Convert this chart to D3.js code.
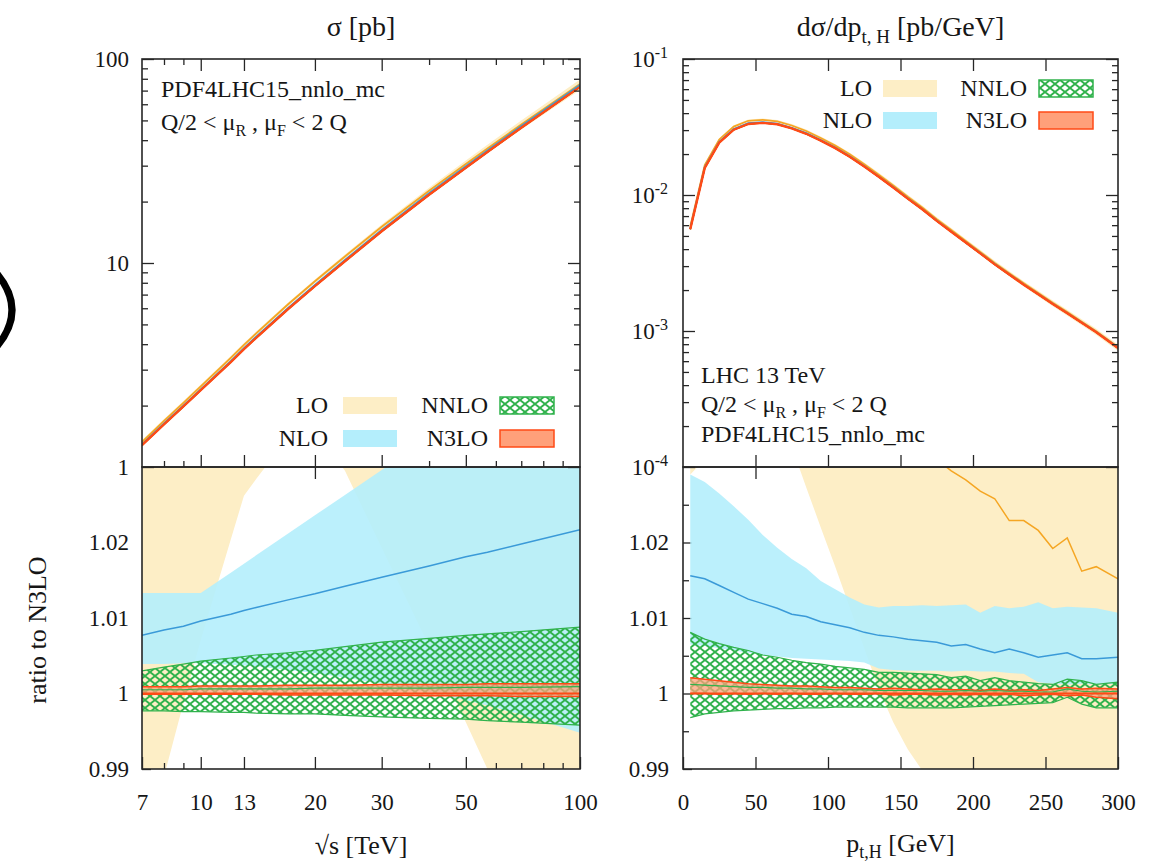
<!DOCTYPE html>
<html><head><meta charset="utf-8">
<script src="https://cdn.jsdelivr.net/npm/d3@7"></script>
<style>
body{margin:0;background:#fff}
svg text{font-family:"Liberation Serif","Times New Roman",serif;fill:#161616}
</style>
</head><body>
<svg id="c" width="1165" height="865"></svg>
<script>
// ---------------- DATA: left panel (total cross section vs sqrt(s)) ----------------
const sqrtS     = [7, 8, 9, 10, 12, 13, 14, 17, 20, 24, 30, 40, 50, 57, 70, 100];
const sigmaN3LO = [1.28, 1.62, 1.98, 2.38, 3.27, 3.78, 4.30, 5.95, 7.70, 10.2, 14.3, 21.6, 29.3, 35.0, 46.0, 73.0];
const loLoS   = [0.978, 0.989, 0.9987, 1.0071, 1.0204, 1.0262, 1.0284, 1.034, 1.035, 1.0295, 1.0193, 1.0063, 0.9962, 0.990, 0.981, 0.965];
const loHiS   = [1.060, 1.062, 1.064, 1.066, 1.069, 1.071, 1.072, 1.075, 1.077, 1.079, 1.081, 1.083, 1.084, 1.085, 1.086, 1.088];
const loMidS  = [1.035, 1.038, 1.041, 1.044, 1.048, 1.050, 1.051, 1.055, 1.057, 1.055, 1.052, 1.047, 1.043, 1.040, 1.037, 1.033];
const nloLoS  = [1.0039, 1.0039, 1.0040, 1.0040, 1.0038, 1.0037, 1.0036, 1.0031, 1.0027, 1.0021, 1.0013, 1.0002, 0.9991, 0.9984, 0.9972, 0.9948];
const nloHiS  = [1.0133, 1.0133, 1.0133, 1.0133, 1.0160, 1.0172, 1.0183, 1.0212, 1.0236, 1.0263, 1.0296, 1.0340, 1.0371, 1.0390, 1.0420, 1.0470];
const nloMidS = [1.0077, 1.0084, 1.0089, 1.0096, 1.0105, 1.0110, 1.0114, 1.0124, 1.0132, 1.0142, 1.0154, 1.0169, 1.0181, 1.0187, 1.0198, 1.0217];
const nnloLoS = [0.9977, 0.9977, 0.9976, 0.9976, 0.9975, 0.9975, 0.9974, 0.9973, 0.9973, 0.9971, 0.9969, 0.9967, 0.9966, 0.9964, 0.9962, 0.9958];
const nnloHiS = [1.0030, 1.0035, 1.0039, 1.0043, 1.0047, 1.0049, 1.0051, 1.0054, 1.0057, 1.0062, 1.0068, 1.0073, 1.0077, 1.0079, 1.0082, 1.0088];
const nnloMidS= [1.0005, 1.0005, 1.0005, 1.0006, 1.0006, 1.0006, 1.0006, 1.0006, 1.0007, 1.0007, 1.0007, 1.0007, 1.0008, 1.0008, 1.0008, 1.0009];
const n3loLoS = [0.9999, 0.9999, 0.9999, 0.9999, 0.9999, 0.9999, 0.9999, 0.9998, 0.9998, 0.9998, 0.9998, 0.9997, 0.9997, 0.9997, 0.9996, 0.9996];
const n3loHiS = [1.0009, 1.0009, 1.0009, 1.0010, 1.0010, 1.0010, 1.0010, 1.0011, 1.0011, 1.0011, 1.0012, 1.0012, 1.0012, 1.0013, 1.0013, 1.0013];

// ---------------- DATA: right panel (pt,H distribution at 13 TeV) ----------------
const ptH = [5, 15, 25, 35, 45, 55, 65, 75, 85, 95, 105, 115, 125, 135, 145, 155, 165, 175, 185, 195, 205, 215, 225, 235, 245, 255, 265, 275, 285, 300];
const dsigN3LO = [5.6e-3, 1.58e-2, 2.43e-2, 3.02e-2, 3.33e-2, 3.39e-2, 3.31e-2, 3.09e-2, 2.82e-2, 2.51e-2, 2.21e-2, 1.91e-2, 1.62e-2, 1.36e-2, 1.135e-2,
                  9.4e-3, 7.85e-3, 6.45e-3, 5.37e-3, 4.47e-3, 3.72e-3, 3.09e-3, 2.60e-3, 2.19e-3, 1.86e-3, 1.58e-3, 1.35e-3, 1.15e-3, 9.8e-4, 7.5e-4];
const loLoP   = [1.029, 1.031, 1.035, 1.039, 1.041, 1.041, 1.038, 1.0327, 1.0273, 1.022, 1.0168, 1.0114, 1.006, 1.0006, 0.9962,
                 0.9926, 0.9898, 0.987, 0.984, 0.981, 0.978, 0.975, 0.972, 0.969, 0.966, 0.963, 0.960, 0.957, 0.954, 0.950];
const loHiP   = [1.070, 1.073, 1.075, 1.077, 1.078, 1.078, 1.077, 1.076, 1.075, 1.074, 1.073, 1.072, 1.071, 1.070, 1.069,
                 1.068, 1.067, 1.066, 1.065, 1.064, 1.063, 1.062, 1.062, 1.061, 1.061, 1.060, 1.060, 1.060, 1.060, 1.060];
const loMidP  = [1.050, 1.052, 1.054, 1.055, 1.055, 1.054, 1.052, 1.050, 1.048, 1.046, 1.044, 1.042, 1.040, 1.038, 1.036,
                 1.034, 1.0325, 1.031, 1.0295, 1.0283, 1.0268, 1.0258, 1.0229, 1.0229, 1.0216, 1.0192, 1.0206, 1.0162, 1.0168, 1.0152];
const nloHiP  = [1.0290, 1.0280, 1.0265, 1.0248, 1.0230, 1.0210, 1.0193, 1.0178, 1.0166, 1.0149, 1.0138, 1.0127, 1.0118, 1.0114, 1.0116,
                 1.0116, 1.0117, 1.0116, 1.0117, 1.0118, 1.0107, 1.0116, 1.0113, 1.0115, 1.0121, 1.0113, 1.0115, 1.0114, 1.0113, 1.0107];
const nloLoP  = [1.0065, 1.0063, 1.0060, 1.0057, 1.0054, 1.0051, 1.0049, 1.0047, 1.0046, 1.0045, 1.0044, 1.0043, 1.0041, 1.0033, 1.0031,
                 1.0030, 1.0030, 1.0030, 1.0029, 1.0030, 1.0029, 1.0029, 1.0027, 1.0026, 1.0015, 1.0013, 1.0012, 1.0013, 1.0012, 1.0013];
const nloMidP = [1.0156, 1.0152, 1.0143, 1.0134, 1.0125, 1.0119, 1.0113, 1.0105, 1.0102, 1.0095, 1.0091, 1.0087, 1.0081, 1.0077, 1.0075,
                 1.0072, 1.0070, 1.0068, 1.0063, 1.0065, 1.0059, 1.0054, 1.0059, 1.0054, 1.0048, 1.0051, 1.0054, 1.0046, 1.0046, 1.0048];
const nnloHiP = [1.0081, 1.0072, 1.0066, 1.0061, 1.0057, 1.0051, 1.0048, 1.0044, 1.0041, 1.0039, 1.0036, 1.0034, 1.0032, 1.0028, 1.0028,
                 1.0027, 1.0026, 1.0025, 1.0021, 1.0023, 1.0017, 1.0021, 1.0017, 1.0015, 1.0013, 1.0012, 1.0019, 1.0017, 1.0012, 1.0015];
const nnloLoP = [0.9968, 0.9973, 0.9975, 0.9977, 0.9978, 0.9979, 0.9980, 0.9980, 0.9981, 0.9981, 0.9982, 0.9982, 0.9982, 0.9982, 0.9982,
                 0.9981, 0.9981, 0.9981, 0.9981, 0.9982, 0.9983, 0.9984, 0.9985, 0.9986, 0.9987, 0.9988, 0.9995, 0.9986, 0.9981, 0.9981];
const nnloMidP= [1.0012, 1.0011, 1.0010, 1.0009, 1.0008, 1.0008, 1.0007, 1.0007, 1.0006, 1.0006, 1.0005, 1.0005, 1.0005, 1.0004, 1.0004,
                 1.0004, 1.0004, 1.0003, 1.0003, 1.0004, 1.0003, 1.0004, 1.0003, 1.0003, 1.0002, 1.0002, 1.0006, 1.0003, 1.0002, 1.0003];
const n3loHiP = [1.0021, 1.0019, 1.0017, 1.0015, 1.0013, 1.0012, 1.0011, 1.0010, 1.0010, 1.0009, 1.0008, 1.0008, 1.0007, 1.0006, 1.0007,
                 1.0006, 1.0005, 1.0006, 1.0005, 1.0005, 1.0004, 1.0006, 1.0004, 1.0005, 1.0004, 1.0006, 1.0008, 1.0006, 1.0007, 1.0006];
const n3loLoP = [1.0000, 1.0000, 0.9999, 1.0000, 0.9999, 1.0000, 0.9999, 1.0000, 0.9999, 0.9999, 1.0000, 0.9999, 0.9999, 1.0000, 0.9998,
                 0.9999, 0.9999, 0.9998, 0.9999, 0.9998, 0.9999, 0.9998, 0.9999, 0.9997, 0.9998, 0.9999, 0.9997, 0.9998, 0.9995, 0.9993];

// ---------------- tick values / labels ----------------
const xLabelsS = [7, 10, 13, 20, 30, 50, 100];
const xMajorS  = [10, 13, 20, 30, 50];
const xMinorS  = [8, 9, 40, 60, 70, 80, 90];
const yLabelsSig = [1, 10, 100];
const yMinorSig  = [2, 3, 4, 5, 6, 7, 8, 9, 20, 30, 40, 50, 60, 70, 80, 90];
const xLabelsP = [0, 50, 100, 150, 200, 250, 300];
const xMajorP  = [50, 100, 150, 200, 250];
const yLabelsDs = [1e-4, 1e-3, 1e-2, 1e-1];
const yExpDs    = {"0.0001": "-4", "0.001": "-3", "0.01": "-2", "0.1": "-1"};
const yMinorDs  = [2e-4,3e-4,4e-4,5e-4,6e-4,7e-4,8e-4,9e-4, 2e-3,3e-3,4e-3,5e-3,6e-3,7e-3,8e-3,9e-3, 2e-2,3e-2,4e-2,5e-2,6e-2,7e-2,8e-2,9e-2];
const yLabelsRat = [0.99, 1, 1.01, 1.02];
const yMinorRat  = [0.995, 1.005, 1.015, 1.025];
const legendRows = [["LO","lo"],["NLO","nlo"],["NNLO","nnlo"],["N3LO","n3lo"]];

// ---------------- styling ----------------
const C = {lo:"#fdeec6", nlo:"#b4eefc", nnlo:"#30b24c", n3loFill:"#ffa07a", n3lo:"#ff4a16",
           loLine:"#f5a623", nloLine:"#3a9ad8", frame:"#262626"};
const PL = {x0:142, x1:580}, PR = {x0:683, x1:1118};
const yTop = 59, yMid = 467, yBot = 769;
const TICKFONT = 23;

const svg = d3.select("#c");
const defs = svg.append("defs");
const pat = defs.append("pattern").attr("id","hatch").attr("patternUnits","userSpaceOnUse")
  .attr("width",10).attr("height",8);
pat.append("path").attr("d","M-1,-0.8L11,8.8M11,-0.8L-1,8.8").attr("stroke",C.nnlo)
  .attr("stroke-width",1.9).attr("fill","none");
function clip(id, x0, y0, x1, y1){
  defs.append("clipPath").attr("id",id).append("rect")
    .attr("x",x0).attr("y",y0).attr("width",x1-x0).attr("height",y1-y0);
}
clip("cUL",PL.x0,yTop,PL.x1,yMid); clip("cLL",PL.x0,yMid,PL.x1,yBot);
clip("cUR",PR.x0,yTop,PR.x1,yMid); clip("cLR",PR.x0,yMid,PR.x1,yBot);

// scales
const xS  = d3.scaleLog().domain([7,100]).range([PL.x0,PL.x1]);
const ySig= d3.scaleLog().domain([1,100]).range([yMid,yTop]);
const xP  = d3.scaleLinear().domain([0,300]).range([PR.x0,PR.x1]);
const yDs = d3.scaleLog().domain([1e-4,1e-1]).range([yMid,yTop]);
const yRat= d3.scaleLinear().domain([0.99,1.03]).range([yBot,yMid]);

function rowsOf(xs, c, s){
  return xs.map((x,i)=>({x, c:c[i],
    loLo:s.loLo[i], loHi:s.loHi[i], loMid:s.loMid[i],
    nloLo:s.nloLo[i], nloHi:s.nloHi[i], nloMid:s.nloMid[i],
    nnloLo:s.nnloLo[i], nnloHi:s.nnloHi[i], nnloMid:s.nnloMid[i],
    n3loLo:s.n3loLo[i], n3loHi:s.n3loHi[i]}));
}
const rowsS = rowsOf(sqrtS, sigmaN3LO, {loLo:loLoS,loHi:loHiS,loMid:loMidS,nloLo:nloLoS,nloHi:nloHiS,nloMid:nloMidS,
  nnloLo:nnloLoS,nnloHi:nnloHiS,nnloMid:nnloMidS,n3loLo:n3loLoS,n3loHi:n3loHiS});
const rowsP = rowsOf(ptH, dsigN3LO, {loLo:loLoP,loHi:loHiP,loMid:loMidP,nloLo:nloLoP,nloHi:nloHiP,nloMid:nloMidP,
  nnloLo:nnloLoP,nnloHi:nnloHiP,nnloMid:nnloMidP,n3loLo:n3loLoP,n3loHi:n3loHiP});

function drawSet(g, rows, x, yv, upper){
  const area = (a,b)=>d3.area().x(d=>x(d.x)).y0(d=>yv(d,a)).y1(d=>yv(d,b));
  const line = k=>d3.line().x(d=>x(d.x)).y(d=>yv(d,k));
  const w = upper ? 1.8 : 1.5;
  g.append("path").datum(rows).attr("d",area("loLo","loHi")).attr("fill",C.lo);
  g.append("path").datum(rows).attr("d",area("nloLo","nloHi")).attr("fill",C.nlo).attr("fill-opacity",0.9);
  g.append("path").datum(rows).attr("d",area("nnloLo","nnloHi")).attr("fill","url(#hatch)");
  ["nnloLo","nnloHi"].forEach(k=>g.append("path").datum(rows).attr("d",line(k))
      .attr("fill","none").attr("stroke",C.nnlo).attr("stroke-width",1.2));
  g.append("path").datum(rows).attr("d",area("n3loLo","n3loHi")).attr("fill",C.n3loFill).attr("fill-opacity",0.75);
  ["n3loLo","n3loHi"].forEach(k=>g.append("path").datum(rows).attr("d",line(k))
      .attr("fill","none").attr("stroke",C.n3lo).attr("stroke-width",1.5));
  g.append("path").datum(rows).attr("d",line("loMid")).attr("fill","none").attr("stroke",C.loLine).attr("stroke-width",w);
  g.append("path").datum(rows).attr("d",line("nloMid")).attr("fill","none").attr("stroke",C.nloLine).attr("stroke-width",w);
  g.append("path").datum(rows).attr("d",line("nnloMid")).attr("fill","none").attr("stroke",C.nnlo).attr("stroke-width",1.2);
  g.append("path").datum(rows).attr("d",line(null)).attr("fill","none").attr("stroke",C.n3lo).attr("stroke-width",upper?2.4:2);
}
const ratioOf = (d,k)=> k===null ? 1 : d[k];

function ax(gen, tx, ty){
  const g = svg.append("g").attr("transform",`translate(${tx},${ty})`).call(gen);
  g.select(".domain").remove();
  g.attr("font-family",null).attr("font-size",TICKFONT).attr("color",C.frame);
  g.selectAll(".tick line").attr("stroke-width",1.3);
  return g;
}
const none = ()=>"";
const fmtRat = d=> d===1 ? "1" : d.toFixed(2);

// ---------- lower-panel ticks drawn behind the bands ----------
ax(d3.axisBottom(xS).tickValues(xMajorS).tickSizeInner(12).tickSizeOuter(0).tickFormat(none), 0, yMid);
ax(d3.axisBottom(xP).tickValues(xMajorP).tickSizeInner(12).tickSizeOuter(0).tickFormat(none), 0, yMid);
ax(d3.axisLeft(yRat).tickValues(yLabelsRat).tickSizeInner(-9).tickSizeOuter(0).tickPadding(13).tickFormat(fmtRat), PL.x0, 0);
ax(d3.axisLeft(yRat).tickValues(yMinorRat).tickSizeInner(-6).tickSizeOuter(0).tickFormat(none), PL.x0, 0);
ax(d3.axisLeft(yRat).tickValues(yLabelsRat).tickSizeInner(-9).tickSizeOuter(0).tickPadding(14).tickFormat(fmtRat), PR.x0, 0);
ax(d3.axisLeft(yRat).tickValues(yMinorRat).tickSizeInner(-6).tickSizeOuter(0).tickFormat(none), PR.x0, 0);

// ---------- bands & lines ----------
drawSet(svg.append("g").attr("clip-path","url(#cUL)"), rowsS, xS, (d,k)=>ySig(d.c*ratioOf(d,k)), true);
drawSet(svg.append("g").attr("clip-path","url(#cLL)"), rowsS, xS, (d,k)=>yRat(ratioOf(d,k)), false);
drawSet(svg.append("g").attr("clip-path","url(#cUR)"), rowsP, xP, (d,k)=>yDs(d.c*ratioOf(d,k)), true);
drawSet(svg.append("g").attr("clip-path","url(#cLR)"), rowsP, xP, (d,k)=>yRat(ratioOf(d,k)), false);

// ---------- upper-panel ticks ----------
ax(d3.axisBottom(xS).tickValues(xMajorS).tickSizeInner(12).tickSizeOuter(0).tickFormat(none), 0, yTop);
ax(d3.axisBottom(xS).tickValues(xMinorS).tickSizeInner(6).tickSizeOuter(0).tickFormat(none), 0, yTop);
ax(d3.axisTop(xS).tickValues(xMajorS).tickSizeInner(12).tickSizeOuter(0).tickFormat(none), 0, yMid);
ax(d3.axisTop(xS).tickValues(xMinorS).tickSizeInner(6).tickSizeOuter(0).tickFormat(none), 0, yMid);
ax(d3.axisLeft(ySig).tickValues(yLabelsSig).tickSizeInner(-12).tickSizeOuter(0).tickPadding(13).tickFormat(d3.format("d")), PL.x0, 0);
ax(d3.axisLeft(ySig).tickValues(yMinorSig).tickSizeInner(-6).tickSizeOuter(0).tickFormat(none), PL.x0, 0);
ax(d3.axisLeft(ySig).tickValues(yLabelsSig).tickSizeInner(12).tickSizeOuter(0).tickFormat(none), PL.x1, 0);
ax(d3.axisLeft(ySig).tickValues(yMinorSig).tickSizeInner(6).tickSizeOuter(0).tickFormat(none), PL.x1, 0);
ax(d3.axisBottom(xP).tickValues(xMajorP).tickSizeInner(12).tickSizeOuter(0).tickFormat(none), 0, yTop);
ax(d3.axisTop(xP).tickValues(xMajorP).tickSizeInner(12).tickSizeOuter(0).tickFormat(none), 0, yMid);
const gDs = ax(d3.axisLeft(yDs).tickValues(yLabelsDs).tickSizeInner(-12).tickSizeOuter(0).tickPadding(15).tickFormat(()=>"10"), PR.x0, 0);
gDs.selectAll(".tick text").each(function(d){
  d3.select(this).append("tspan").attr("font-size",16).attr("dy","-0.55em").text(yExpDs[String(d)]);
});
ax(d3.axisLeft(yDs).tickValues(yMinorDs).tickSizeInner(-6).tickSizeOuter(0).tickFormat(none), PR.x0, 0);
ax(d3.axisLeft(yDs).tickValues(yLabelsDs).tickSizeInner(12).tickSizeOuter(0).tickFormat(none), PR.x1, 0);
ax(d3.axisLeft(yDs).tickValues(yMinorDs).tickSizeInner(6).tickSizeOuter(0).tickFormat(none), PR.x1, 0);

// ---------- lower-panel bottom ticks (front) with labels ----------
const gxS = ax(d3.axisBottom(xS).tickValues(xLabelsS).tickSizeInner(-12).tickSizeOuter(0).tickFormat(d3.format("d")), 0, yBot);
ax(d3.axisBottom(xS).tickValues(xMinorS).tickSizeInner(-6).tickSizeOuter(0).tickFormat(none), 0, yBot);
const gxP = ax(d3.axisBottom(xP).tickValues(xLabelsP).tickSizeInner(-12).tickSizeOuter(0).tickFormat(d3.format("d")), 0, yBot);
[gxS,gxP].forEach(g=>g.selectAll(".tick text").attr("y",41).attr("dy",null));

// ---------- frames ----------
[[PL,yTop,yMid],[PL,yMid,yBot],[PR,yTop,yMid],[PR,yMid,yBot]].forEach(([p,a,b])=>{
  svg.append("rect").attr("x",p.x0).attr("y",a).attr("width",p.x1-p.x0).attr("height",b-a)
    .attr("fill","none").attr("stroke",C.frame).attr("stroke-width",1.6);
});

// ---------- legends ----------
function legend(xText1, xBox1, xText2, xBox2, yRow1, yRow2){
  const pos = [[xText1,xBox1,yRow1],[xText1,xBox1,yRow2],[xText2,xBox2,yRow1],[xText2,xBox2,yRow2]];
  legendRows.forEach(([lab,key],i)=>{
    const [xt,xb,yb] = pos[i];
    svg.append("text").attr("x",xt).attr("y",yb+16).attr("text-anchor","end").attr("font-size",24).text(lab);
    const r = svg.append("rect").attr("x",xb).attr("y",yb).attr("width",54).attr("height",17);
    if(key==="lo") r.attr("fill",C.lo);
    if(key==="nlo") r.attr("fill",C.nlo);
    if(key==="nnlo") r.attr("fill","url(#hatch)").attr("stroke",C.nnlo).attr("stroke-width",1.5);
    if(key==="n3lo") r.attr("fill",C.n3loFill).attr("stroke",C.n3lo).attr("stroke-width",1.5);
  });
}
legend(328, 343, 488, 500, 397, 430);
legend(872, 883, 1027, 1039, 80, 112);

// ---------- annotations ----------
function scaleText(x, y){
  const t = svg.append("text").attr("x",x).attr("y",y).attr("font-size",24);
  t.append("tspan").text("Q/2 < μ");
  t.append("tspan").attr("font-size",16).attr("dy",6).text("R");
  t.append("tspan").attr("dy",-6).text(" , μ");
  t.append("tspan").attr("font-size",16).attr("dy",6).text("F");
  t.append("tspan").attr("dy",-6).text(" < 2 Q");
}
svg.append("text").attr("x",161).attr("y",97).attr("font-size",24).text("PDF4LHC15_nnlo_mc");
scaleText(161, 130);
svg.append("text").attr("x",701).attr("y",383).attr("font-size",24).text("LHC 13 TeV");
scaleText(701, 412);
svg.append("text").attr("x",701).attr("y",442).attr("font-size",24).text("PDF4LHC15_nnlo_mc");

// titles
svg.append("text").attr("x",(PL.x0+PL.x1)/2).attr("y",36).attr("text-anchor","middle").attr("font-size",28).text("σ [pb]");
const t2 = svg.append("text").attr("x",(PR.x0+PR.x1)/2).attr("y",36).attr("text-anchor","middle").attr("font-size",28);
t2.append("tspan").text("dσ/dp");
t2.append("tspan").attr("font-size",19).attr("dy",7).text("t, H");
t2.append("tspan").attr("dy",-7).text(" [pb/GeV]");

// axis titles
svg.append("text").attr("x",(PL.x0+PL.x1)/2).attr("y",854).attr("text-anchor","middle").attr("font-size",26).text("√s [TeV]");
const t3 = svg.append("text").attr("x",(PR.x0+PR.x1)/2).attr("y",852).attr("text-anchor","middle").attr("font-size",26);
t3.append("tspan").text("p");
t3.append("tspan").attr("font-size",18).attr("dy",6).text("t,H");
t3.append("tspan").attr("dy",-6).text(" [GeV]");
svg.append("text").attr("transform","translate(46,630) rotate(-90)").attr("text-anchor","middle").attr("font-size",26).text("ratio to N3LO");

// cropped parenthesis of neighbouring figure at the left edge
svg.append("path").attr("d","M-8,268 Q32,310 -8,352").attr("fill","none").attr("stroke","#000").attr("stroke-width",7);
</script>
</body></html>
